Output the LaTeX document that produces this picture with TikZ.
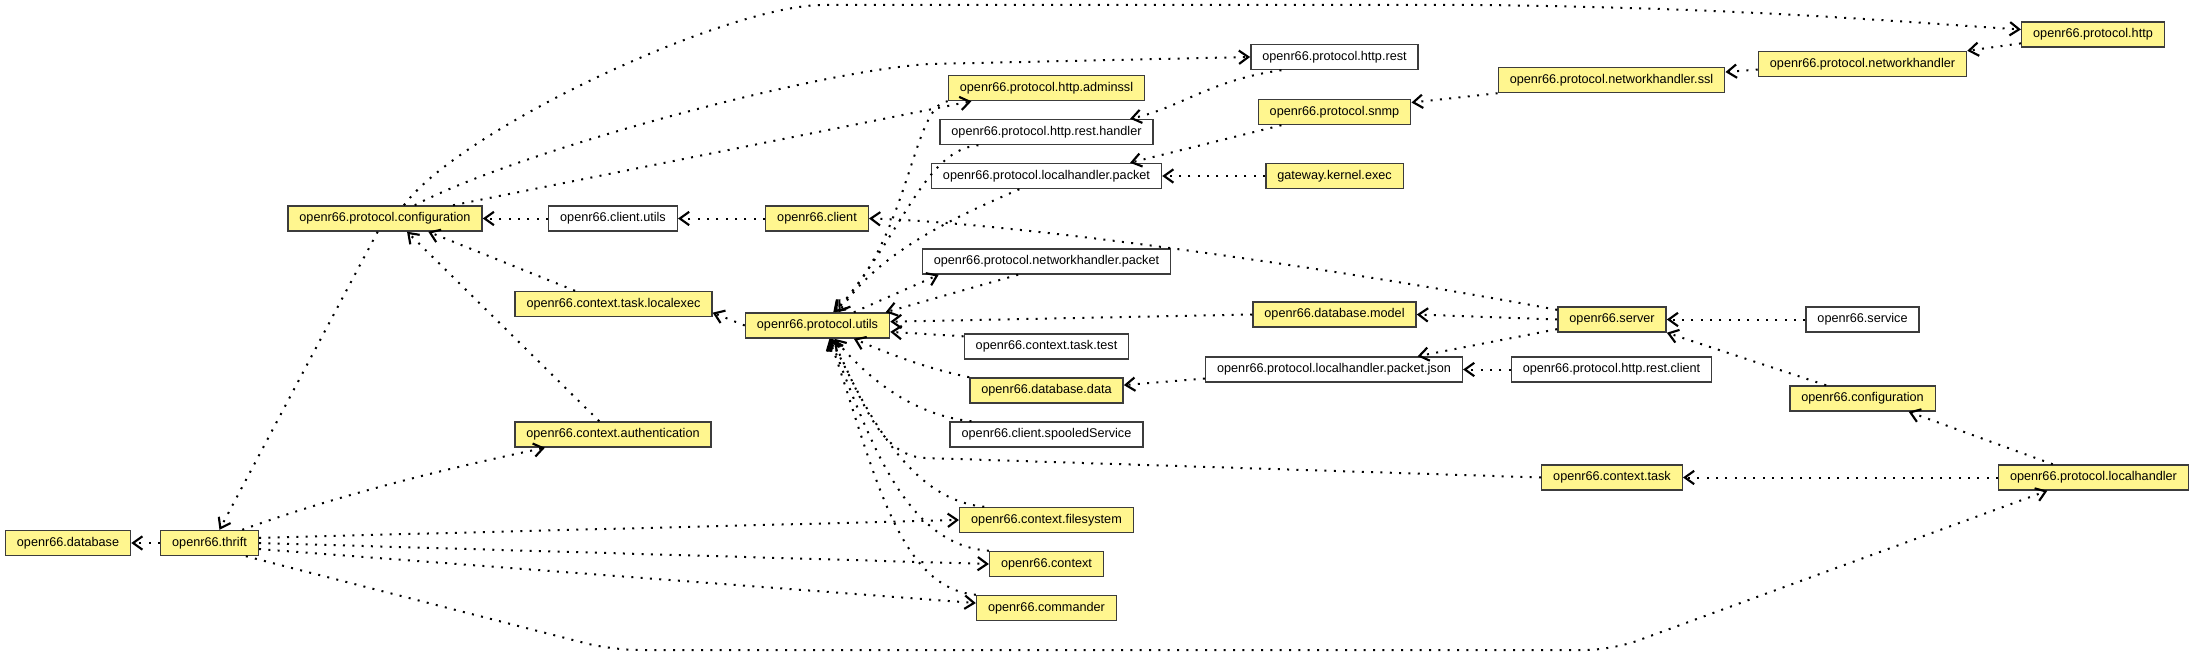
\documentclass[tikz,border=0pt]{standalone}
\usepackage{fontspec}
\setmainfont{Liberation Sans}
\usetikzlibrary{arrows.meta}
\definecolor{pkgyellow}{RGB}{255,246,143}
\definecolor{boxline}{RGB}{60,60,60}

\begin{document}
\begin{tikzpicture}[x=0.75pt, y=-0.75pt,
    >={Straight Barb[length=7pt,width=10pt,line width=1.6pt]},
    pkg/.style={rectangle, draw=boxline, line width=1.1pt, fill=pkgyellow,
      minimum height=18.75pt, inner xsep=8.6pt, inner ysep=0pt,
      font=\fontsize{9.5}{11}\selectfont},
    ext/.style={pkg, fill=white},
    dep/.style={->, line width=1.5pt, dash pattern=on 1.5pt off 5.5pt}]
    \useasboundingbox (0,0) rectangle (2195,656);
    % packages
    \node[pkg] (db) at (68,543) {openr66.database};
    \node[pkg] (thrift) at (209.5,543) {openr66.thrift};
    \node[pkg] (pconf) at (385,218.5) {openr66.protocol.configuration};
    \node[ext] (cutils) at (613,218.5) {openr66.client.utils};
    \node[pkg] (localexec) at (613.5,304) {openr66.context.task.localexec};
    \node[pkg] (auth) at (613,434.5) {openr66.context.authentication};
    \node[pkg] (client) at (817,218.5) {openr66.client};
    \node[pkg] (putils) at (817.5,325.5) {openr66.protocol.utils};
    \node[pkg] (adminssl) at (1046.5,88) {openr66.protocol.http.adminssl};
    \node[ext] (resthandler) at (1046.5,132) {openr66.protocol.http.rest.handler};
    \node[ext] (lhpacket) at (1046.5,176) {openr66.protocol.localhandler.packet};
    \node[ext] (nhpacket) at (1046.5,261.5) {openr66.protocol.networkhandler.packet};
    \node[ext] (tasktest) at (1046.5,346.5) {openr66.context.task.test};
    \node[pkg] (dbdata) at (1046.5,390.5) {openr66.database.data};
    \node[ext] (spooled) at (1046.5,434.5) {openr66.client.spooledService};
    \node[pkg] (cfs) at (1046.5,520) {openr66.context.filesystem};
    \node[pkg] (ctx) at (1046.5,564) {openr66.context};
    \node[pkg] (cmd) at (1046.5,608) {openr66.commander};
    \node[ext] (rest) at (1334.5,57) {openr66.protocol.http.rest};
    \node[pkg] (snmp) at (1334.5,112) {openr66.protocol.snmp};
    \node[pkg] (gateway) at (1334.5,176) {gateway.kernel.exec};
    \node[pkg] (dbmodel) at (1334.5,314.5) {openr66.database.model};
    \node[ext] (json) at (1334,369.5) {openr66.protocol.localhandler.packet.json};
    \node[pkg] (nhssl) at (1611.5,80) {openr66.protocol.networkhandler.ssl};
    \node[pkg] (server) at (1612,319.5) {openr66.server};
    \node[ext] (restclient) at (1611.5,369.5) {openr66.protocol.http.rest.client};
    \node[pkg] (ctxtask) at (1612,477.5) {openr66.context.task};
    \node[pkg] (nh) at (1862.5,64) {openr66.protocol.networkhandler};
    \node[ext] (service) at (1862.5,319.5) {openr66.service};
    \node[pkg] (conf) at (1862.5,398.5) {openr66.configuration};
    \node[pkg] (phttp) at (2093,34.5) {openr66.protocol.http};
    \node[pkg] (plh) at (2093.5,477.5) {openr66.protocol.localhandler};

    % dependencies
    \draw[dep] (cutils.west) -- (pconf.east); \draw[dep] (client.west) -- (cutils.east);
    \draw[dep] (pconf.-119) -- (thrift.53); \draw[dep] (localexec.161) -- (pconf.-17);
    \draw[dep] (auth.136) -- (pconf.-31);
    \draw[dep] (thrift.22) .. controls (330,498) and (430,472) .. (auth.191);
    \draw[dep] (thrift.west) -- (db.east); \draw[dep] (thrift.6) -- (cfs.west);
    \draw[dep] (thrift.east) -- (ctx.west); \draw[dep] (thrift.-7) -- (cmd.176);
    \draw[dep, rounded corners=20pt] (thrift.-20) -- (612,650) -- (1612,650) -- (plh.196);
    \draw[dep] (pconf.35) .. controls (460,130) and (720,8) .. (820,5) -- (1480,5)
      .. controls (1750,8) and (1900,22) .. (phttp.176);
    \draw[dep] (pconf.24) .. controls (520,150) and (820,70) .. (930,64) -- (rest.west);
    \draw[dep] (pconf.11) -- (adminssl.190);
    \draw[dep] (adminssl.south west) .. controls (912,105) and (910,240) .. (putils.40);
    \draw[dep] (resthandler.191) .. controls (925,150) and (905,230) .. (putils.37);
    \draw[dep] (lhpacket.206) .. controls (960,215) and (880,250) .. (putils.32);
    \draw[dep] (putils.20) -- (nhpacket.187); \draw[dep] (nhpacket.205) -- (putils.11);
    \draw[dep] (dbmodel.west) -- (putils.3); \draw[dep] (tasktest.173) -- (putils.-5);
    \draw[dep] (dbdata.north west) .. controls (920,367) and (880,350) .. (putils.-20);
    \draw[dep] (spooled.170) .. controls (910,415) and (865,375) .. (putils.-38);
    \draw[dep] (ctxtask.west) -- (925,458) .. controls (880,456) and (862,400) .. (putils.-42);
    \draw[dep] (cfs.168) .. controls (912,500) and (870,420) .. (putils.-44);
    \draw[dep] (ctx.north west) .. controls (905,545) and (870,440) .. (putils.-46);
    \draw[dep] (cmd.north west) .. controls (895,588) and (872,460) .. (putils.-48);
    \draw[dep] (putils.west) -- (localexec.-5);
    \draw[dep] (server.west) -- (dbmodel.east);
    \draw[dep] (server.170) .. controls (1300,262) and (1000,222) .. (client.east);
    \draw[dep] (service.west) -- (server.east); \draw[dep] (conf.160) -- (server.south east);
    \draw[dep] (plh.162) -- (conf.-16); \draw[dep] (plh.west) -- (ctxtask.east);
    \draw[dep] (server.190) -- (json.9); \draw[dep] (restclient.west) -- (json.east);
    \draw[dep] (json.184) -- (dbdata.4);
    \draw[dep] (rest.194) .. controls (1210,80) and (1180,108) .. (resthandler.9);
    \draw[dep] (snmp.194) -- (lhpacket.9); \draw[dep] (gateway.west) -- (lhpacket.east);
    \draw[dep] (nhssl.south west) -- (snmp.7); \draw[dep] (nh.183) -- (nhssl.4);
    \draw[dep] (phttp.187) -- (nh.north east);
\end{tikzpicture}
\end{document}
